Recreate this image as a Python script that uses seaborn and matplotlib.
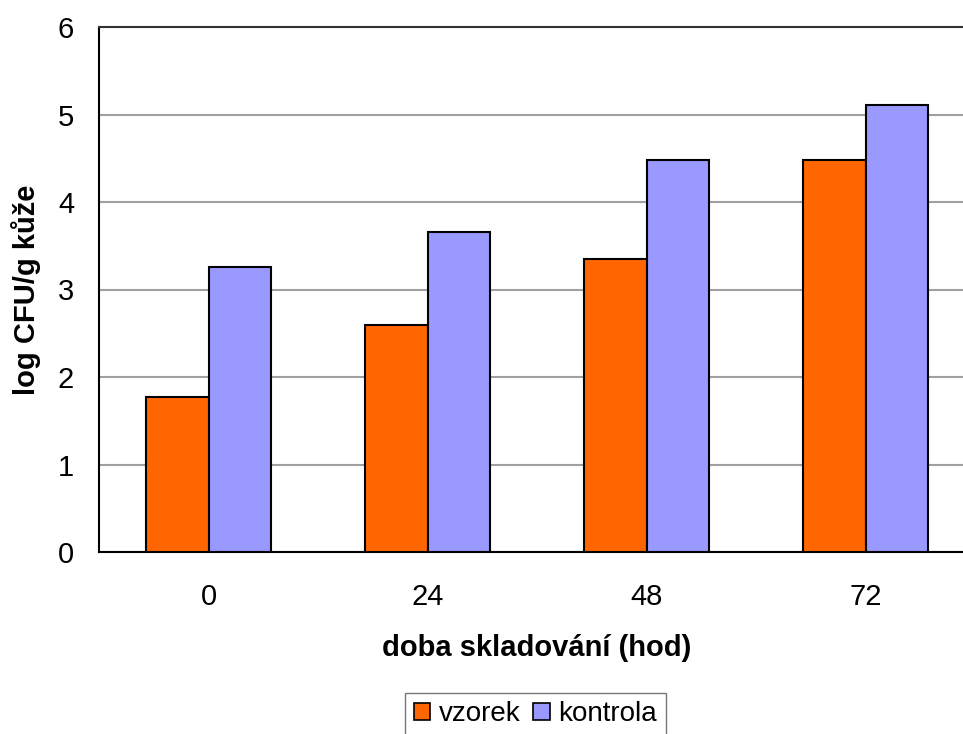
import matplotlib
matplotlib.use("Agg")
import matplotlib.pyplot as plt
import seaborn as sns
import pandas as pd
from matplotlib.patches import Patch

categories = ["0", "24", "48", "72"]
vzorek = [1.77, 2.59, 3.35, 4.48]
kontrola = [3.26, 3.66, 4.48, 5.11]
series_names = ["vzorek", "kontrola"]
colors = ["#FF6600", "#9999FF"]

df = pd.DataFrame({
    "doba": categories * 2,
    "value": vzorek + kontrola,
    "series": [series_names[0]] * 4 + [series_names[1]] * 4,
})

sns.set_style("white")
plt.rcParams["font.family"] = ["Liberation Sans", "DejaVu Sans"]
plt.rcParams["text.color"] = "black"
plt.rcParams["axes.labelcolor"] = "black"
plt.rcParams["xtick.color"] = "black"
plt.rcParams["ytick.color"] = "black"

W, H = 963, 734
fig = plt.figure(figsize=(W / 100, H / 100), dpi=100)
left, right, top, bottom = 99, 975, 27, 552
ax = fig.add_axes([left / W, 1 - bottom / H, (right - left) / W, (bottom - top) / H])

sns.barplot(data=df, x="doba", y="value", hue="series", palette=colors,
            width=0.57, edgecolor="black", linewidth=1.5, ax=ax,
            legend=False, zorder=3, saturation=1)

ax.set_ylim(0, 6)
ax.set_xlim(-0.5, 3.5)
ax.set_yticks(range(0, 7))
ax.yaxis.grid(True, color="#a0a0a0", linewidth=1.5, zorder=0)
ax.set_axisbelow(True)

ax.spines["right"].set_visible(False)
ax.spines["top"].set_color("#333333")
ax.spines["top"].set_linewidth(1.5)
ax.spines["left"].set_color("black")
ax.spines["left"].set_linewidth(1.5)
ax.spines["bottom"].set_color("black")
ax.spines["bottom"].set_linewidth(1.5)

ax.set_xticks([0, 1, 2, 3])
ax.set_xticklabels(categories)
ax.tick_params(axis="x", which="major", length=0, pad=22, labelsize=21)
ax.set_xticks([-0.5, 0.5, 1.5, 2.5, 3.5], minor=True)
ax.tick_params(axis="x", which="minor", length=7, width=1.5, color="black", direction="out")
ax.tick_params(axis="y", length=7, width=1.5, color="black", direction="out", labelsize=21, pad=11)

ax.set_xlabel("doba skladování (hod)", fontsize=21, fontweight="bold", labelpad=17)
ax.set_ylabel("log CFU/g kůže", fontsize=21, fontweight="bold", labelpad=12)

handles = [Patch(facecolor=c, edgecolor="black", linewidth=1.2) for c in colors]
leg = fig.legend(handles, series_names, loc="upper center",
                 bbox_to_anchor=(535.5 / W, 1 - 693 / H), ncol=2, fontsize=20,
                 frameon=True, fancybox=False, edgecolor="#555555",
                 handlelength=0.6, handleheight=0.6, handletextpad=0.32,
                 columnspacing=0.43, borderpad=0.3, borderaxespad=0)
leg.get_frame().set_linewidth(1.0)

fig.savefig("out.png", dpi=100)
